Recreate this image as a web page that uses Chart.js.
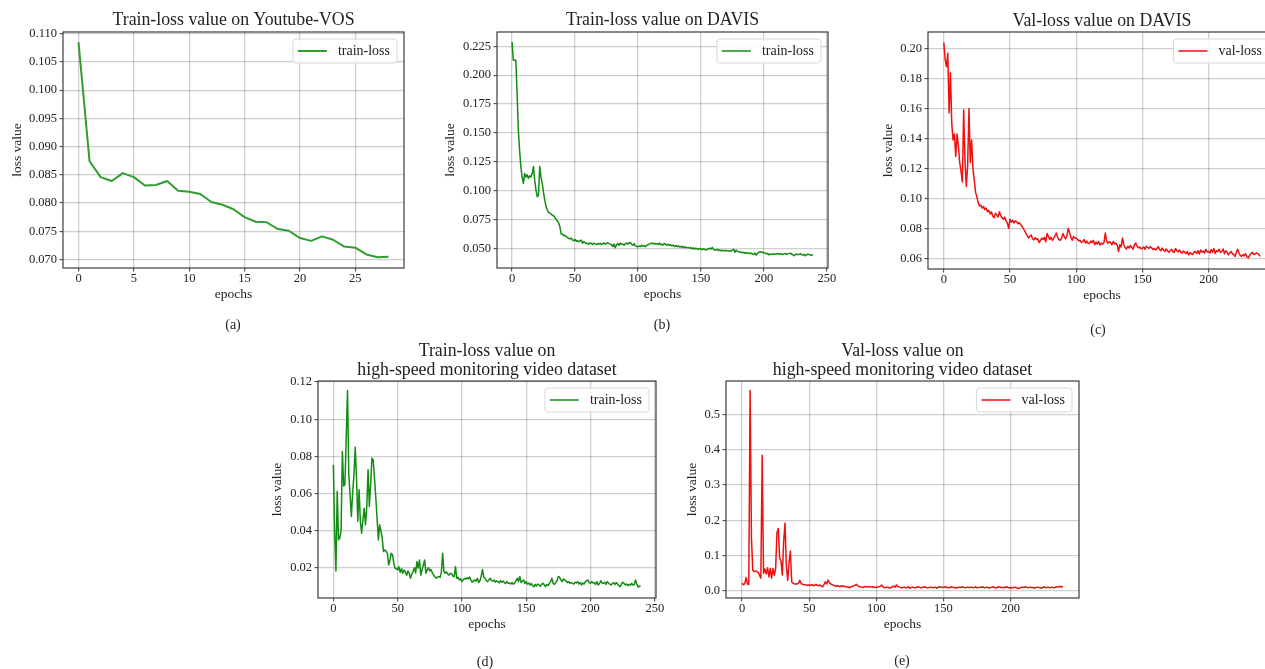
<!DOCTYPE html>
<html>
<head>
<meta charset="utf-8">
<script src="https://cdn.jsdelivr.net/npm/chart.js@4.4.1/dist/chart.umd.min.js"></script>
<style>
  html, body { margin: 0; padding: 0; background: #fff; }
  body { width: 1265px; height: 669px; position: relative; overflow: hidden; }
  canvas { position: absolute; }
  .cap { position: absolute; font: 14px "Liberation Serif", serif; color: #222; transform: translate(-50%, -50%); opacity: 0.999; will-change: transform; }
</style>
</head>
<body>
<canvas id="chartA"></canvas>
<canvas id="chartB"></canvas>
<canvas id="chartC"></canvas>
<canvas id="chartD"></canvas>
<canvas id="chartE"></canvas>
<div class="cap" style="left:233px; top:325px;">(a)</div>
<div class="cap" style="left:662px; top:325px;">(b)</div>
<div class="cap" style="left:1098px; top:330px;">(c)</div>
<div class="cap" style="left:485px; top:662px;">(d)</div>
<div class="cap" style="left:902px; top:661px;">(e)</div>
<script>
// ---- data ----
var trainLossYoutube = [0.1085, 0.0874, 0.0846, 0.0839, 0.0853, 0.0846, 0.0831, 0.0832, 0.0839, 0.0822,
    0.0820, 0.0816, 0.0802, 0.0797, 0.0789, 0.0775, 0.0767, 0.0766, 0.0754, 0.0751,
    0.0738, 0.0733, 0.0741, 0.0735, 0.0723, 0.0721, 0.0709, 0.0704, 0.0705];

var trainLossDavis = [
    0.2287, 0.2130, 0.2130, 0.2128, 0.1850, 0.1520, 0.1350, 0.1210, 0.1120, 0.1065,
    0.1150, 0.1120, 0.1140, 0.1110, 0.1130, 0.1120, 0.1150, 0.1210, 0.1093, 0.1007,
    0.0950, 0.0965, 0.1210, 0.1120, 0.1065, 0.0985, 0.0920, 0.0865, 0.0835, 0.0815,
    0.0808, 0.0800, 0.0790, 0.0785, 0.0770, 0.0756, 0.0738, 0.0725, 0.0690, 0.0628,
    0.0625, 0.0612, 0.0618, 0.0605, 0.0598, 0.0590, 0.0585, 0.0592, 0.0576, 0.0570,
    0.0582, 0.0565, 0.0572, 0.0560, 0.0568, 0.0575, 0.0548, 0.0562, 0.0553, 0.0545,
    0.0548, 0.0540, 0.0552, 0.0545, 0.0538, 0.0550, 0.0542, 0.0535, 0.0546, 0.0540,
    0.0548, 0.0536, 0.0544, 0.0550, 0.0540, 0.0547, 0.0552, 0.0545, 0.0540, 0.0535,
    0.0518, 0.0540, 0.0510, 0.0535, 0.0545, 0.0530, 0.0550, 0.0538, 0.0542, 0.0530,
    0.0545, 0.0550, 0.0540, 0.0552, 0.0555, 0.0538, 0.0530, 0.0545, 0.0525, 0.0520,
    0.0518, 0.0525, 0.0520, 0.0530, 0.0522, 0.0528, 0.0518, 0.0530, 0.0535, 0.0540,
    0.0545, 0.0550, 0.0542, 0.0548, 0.0540, 0.0545, 0.0538, 0.0550, 0.0535, 0.0540,
    0.0532, 0.0545, 0.0538, 0.0530, 0.0540, 0.0528, 0.0535, 0.0525, 0.0532, 0.0520,
    0.0528, 0.0518, 0.0525, 0.0515, 0.0520, 0.0512, 0.0522, 0.0510, 0.0515, 0.0508,
    0.0512, 0.0505, 0.0510, 0.0500, 0.0508, 0.0498, 0.0505, 0.0500, 0.0495, 0.0502,
    0.0498, 0.0492, 0.0500, 0.0495, 0.0490, 0.0496, 0.0500, 0.0505, 0.0498, 0.0512,
    0.0495, 0.0490, 0.0488, 0.0495, 0.0485, 0.0490, 0.0482, 0.0488, 0.0485, 0.0480,
    0.0488, 0.0482, 0.0478, 0.0485, 0.0480, 0.0490, 0.0495, 0.0470, 0.0488, 0.0480,
    0.0475, 0.0470, 0.0472, 0.0465, 0.0470, 0.0462, 0.0468, 0.0460, 0.0465, 0.0458,
    0.0462, 0.0455, 0.0450, 0.0465, 0.0445, 0.0460, 0.0470, 0.0475, 0.0468, 0.0472,
    0.0465, 0.0462, 0.0458, 0.0460, 0.0448, 0.0455, 0.0450, 0.0455, 0.0452, 0.0458,
    0.0455, 0.0460, 0.0452, 0.0458, 0.0455, 0.0450, 0.0456, 0.0460, 0.0452, 0.0455,
    0.0458, 0.0462, 0.0455, 0.0448, 0.0440, 0.0450, 0.0455, 0.0448, 0.0452, 0.0458,
    0.0450, 0.0445, 0.0452, 0.0440, 0.0448, 0.0455, 0.0450, 0.0445, 0.0448, 0.0442];

var valLossDavis = [
    0.2042, 0.1930, 0.1880, 0.1970, 0.1570, 0.1840, 0.1500, 0.1390, 0.1430, 0.1280,
    0.1430, 0.1350, 0.1240, 0.1180, 0.1110, 0.1590, 0.1250, 0.1080, 0.1220, 0.1600,
    0.1240, 0.1390, 0.1200, 0.1120, 0.1040, 0.1010, 0.0970, 0.0950, 0.0955, 0.0935,
    0.0945, 0.0925, 0.0935, 0.0910, 0.0920, 0.0895, 0.0910, 0.0880, 0.0870, 0.0900,
    0.0890, 0.0875, 0.0910, 0.0885, 0.0870, 0.0860, 0.0875, 0.0850, 0.0835, 0.0800,
    0.0860, 0.0840, 0.0855, 0.0835, 0.0850, 0.0845, 0.0830, 0.0838, 0.0825, 0.0815,
    0.0800, 0.0785, 0.0768, 0.0752, 0.0735, 0.0748, 0.0755, 0.0730, 0.0722, 0.0738,
    0.0725, 0.0730, 0.0705, 0.0720, 0.0735, 0.0725, 0.0740, 0.0710, 0.0765, 0.0745,
    0.0725, 0.0740, 0.0720, 0.0735, 0.0750, 0.0768, 0.0740, 0.0725, 0.0720, 0.0735,
    0.0765, 0.0745, 0.0730, 0.0750, 0.0800, 0.0770, 0.0740, 0.0720, 0.0745, 0.0735,
    0.0735, 0.0728, 0.0715, 0.0720, 0.0705, 0.0712, 0.0725, 0.0702, 0.0715, 0.0700,
    0.0698, 0.0715, 0.0705, 0.0720, 0.0690, 0.0708, 0.0695, 0.0712, 0.0688, 0.0700,
    0.0695, 0.0705, 0.0768, 0.0715, 0.0700, 0.0710, 0.0705, 0.0690, 0.0712, 0.0695,
    0.0700, 0.0688, 0.0645, 0.0690, 0.0675, 0.0735, 0.0690, 0.0670, 0.0662, 0.0680,
    0.0668, 0.0685, 0.0672, 0.0660, 0.0690, 0.0702, 0.0680, 0.0670, 0.0675, 0.0662,
    0.0668, 0.0675, 0.0660, 0.0680, 0.0672, 0.0665, 0.0678, 0.0670, 0.0658, 0.0665,
    0.0655, 0.0665, 0.0678, 0.0660, 0.0650, 0.0668, 0.0655, 0.0645, 0.0662, 0.0650,
    0.0640, 0.0652, 0.0660, 0.0645, 0.0638, 0.0665, 0.0650, 0.0642, 0.0655, 0.0640,
    0.0635, 0.0648, 0.0640, 0.0630, 0.0645, 0.0622, 0.0638, 0.0630, 0.0625, 0.0640,
    0.0645, 0.0632, 0.0650, 0.0628, 0.0655, 0.0640, 0.0648, 0.0635, 0.0660, 0.0642,
    0.0645, 0.0635, 0.0658, 0.0640, 0.0665, 0.0632, 0.0650, 0.0645, 0.0660, 0.0638,
    0.0645, 0.0662, 0.0630, 0.0650, 0.0640, 0.0622, 0.0635, 0.0645, 0.0630, 0.0625,
    0.0612, 0.0640, 0.0660, 0.0635, 0.0618, 0.0612, 0.0625, 0.0615, 0.0630, 0.0610,
    0.0602, 0.0618, 0.0630, 0.0640, 0.0625, 0.0628, 0.0635, 0.0632, 0.0625, 0.0612];

var trainLossHighSpeed = [
    0.0755, 0.0400, 0.0183, 0.0612, 0.0350, 0.0360, 0.0400, 0.0826, 0.0640, 0.0650,
    0.0900, 0.1155, 0.0700, 0.0593, 0.0476, 0.0603, 0.0700, 0.0849, 0.0683, 0.0450,
    0.0620, 0.0450, 0.0386, 0.0460, 0.0521, 0.0431, 0.0530, 0.0728, 0.0530, 0.0650,
    0.0791, 0.0780, 0.0683, 0.0580, 0.0467, 0.0350, 0.0431, 0.0400, 0.0359, 0.0287,
    0.0296, 0.0290, 0.0278, 0.0215, 0.0240, 0.0278, 0.0270, 0.0225, 0.0197, 0.0195,
    0.0188, 0.0205, 0.0175, 0.0195, 0.0170, 0.0188, 0.0178, 0.0160, 0.0182, 0.0170,
    0.0143, 0.0165, 0.0180, 0.0200, 0.0172, 0.0233, 0.0198, 0.0242, 0.0160, 0.0190,
    0.0215, 0.0242, 0.0170, 0.0188, 0.0200, 0.0182, 0.0190, 0.0172, 0.0160, 0.0152,
    0.0143, 0.0150, 0.0152, 0.0148, 0.0175, 0.0278, 0.0180, 0.0170, 0.0178, 0.0165,
    0.0161, 0.0170, 0.0168, 0.0155, 0.0152, 0.0206, 0.0143, 0.0148, 0.0134, 0.0140,
    0.0125, 0.0135, 0.0143, 0.0138, 0.0146, 0.0140, 0.0150, 0.0132, 0.0122, 0.0130,
    0.0134, 0.0128, 0.0143, 0.0120, 0.0130, 0.0155, 0.0190, 0.0150, 0.0143, 0.0130,
    0.0125, 0.0135, 0.0143, 0.0130, 0.0128, 0.0134, 0.0122, 0.0130, 0.0125, 0.0118,
    0.0130, 0.0122, 0.0128, 0.0120, 0.0115, 0.0125, 0.0116, 0.0118, 0.0112, 0.0120,
    0.0111, 0.0118, 0.0130, 0.0143, 0.0125, 0.0153, 0.0120, 0.0128, 0.0134, 0.0115,
    0.0125, 0.0112, 0.0118, 0.0107, 0.0115, 0.0104, 0.0098, 0.0110, 0.0102, 0.0112,
    0.0107, 0.0100, 0.0112, 0.0116, 0.0108, 0.0098, 0.0110, 0.0104, 0.0116, 0.0125,
    0.0143, 0.0115, 0.0111, 0.0120, 0.0130, 0.0153, 0.0148, 0.0134, 0.0125, 0.0140,
    0.0134, 0.0128, 0.0120, 0.0125, 0.0116, 0.0120, 0.0116, 0.0112, 0.0122, 0.0118,
    0.0125, 0.0112, 0.0120, 0.0107, 0.0118, 0.0112, 0.0125, 0.0130, 0.0134, 0.0120,
    0.0116, 0.0125, 0.0118, 0.0120, 0.0110, 0.0125, 0.0107, 0.0115, 0.0130, 0.0118,
    0.0116, 0.0122, 0.0110, 0.0125, 0.0118, 0.0112, 0.0107, 0.0115, 0.0120, 0.0110,
    0.0120, 0.0112, 0.0104, 0.0098, 0.0110, 0.0122, 0.0116, 0.0108, 0.0112, 0.0104,
    0.0111, 0.0105, 0.0116, 0.0107, 0.0110, 0.0134, 0.0112, 0.0095, 0.0102, 0.0100];

var valLossHighSpeed = [
    0.022, 0.018, 0.020, 0.038, 0.020, 0.018, 0.567, 0.150, 0.058, 0.055,
    0.057, 0.055, 0.052, 0.045, 0.036, 0.384, 0.050, 0.062, 0.048, 0.066,
    0.040, 0.064, 0.036, 0.064, 0.045, 0.062, 0.165, 0.177, 0.093, 0.085,
    0.045, 0.140, 0.192, 0.070, 0.030, 0.080, 0.113, 0.025, 0.022, 0.020,
    0.020, 0.020, 0.022, 0.030, 0.021, 0.019, 0.018, 0.018, 0.017, 0.016,
    0.017, 0.016, 0.018, 0.015, 0.016, 0.019, 0.016, 0.015, 0.017, 0.014,
    0.012, 0.018, 0.026, 0.020, 0.031, 0.024, 0.020, 0.018, 0.016, 0.015,
    0.013, 0.015, 0.014, 0.012, 0.015, 0.013, 0.014, 0.012, 0.011, 0.012,
    0.009, 0.012, 0.013, 0.014, 0.016, 0.019, 0.015, 0.013, 0.012, 0.011,
    0.010, 0.012, 0.013, 0.011, 0.012, 0.013, 0.011, 0.012, 0.010, 0.011,
    0.010, 0.011, 0.012, 0.014, 0.017, 0.012, 0.009, 0.010, 0.011, 0.010,
    0.008, 0.010, 0.012, 0.014, 0.011, 0.017, 0.013, 0.011, 0.010, 0.009,
    0.010, 0.011, 0.009, 0.010, 0.012, 0.008, 0.010, 0.011, 0.009, 0.010,
    0.010, 0.012, 0.011, 0.009, 0.010, 0.011, 0.012, 0.010, 0.009, 0.010,
    0.010, 0.011, 0.009, 0.010, 0.011, 0.008, 0.010, 0.012, 0.011, 0.010,
    0.011, 0.012, 0.010, 0.011, 0.009, 0.010, 0.012, 0.011, 0.009, 0.010,
    0.008, 0.010, 0.011, 0.010, 0.012, 0.011, 0.009, 0.010, 0.011, 0.010,
    0.010, 0.011, 0.009, 0.010, 0.012, 0.009, 0.010, 0.011, 0.010, 0.012,
    0.010, 0.009, 0.011, 0.010, 0.008, 0.010, 0.011, 0.012, 0.010, 0.009,
    0.010, 0.012, 0.011, 0.010, 0.009, 0.011, 0.010, 0.012, 0.010, 0.009,
    0.008, 0.010, 0.009, 0.011, 0.010, 0.008, 0.007, 0.009, 0.010, 0.011,
    0.010, 0.012, 0.011, 0.009, 0.010, 0.011, 0.009, 0.010, 0.008, 0.010,
    0.011, 0.010, 0.009, 0.008, 0.010, 0.012, 0.009, 0.010, 0.011, 0.009,
    0.010, 0.011, 0.009, 0.010, 0.012, 0.011, 0.012, 0.013, 0.012, 0.012];

// tick values
var xTicksA = [0, 5, 10, 15, 20, 25];
var yTicksA = [0.070, 0.075, 0.080, 0.085, 0.090, 0.095, 0.100, 0.105, 0.110];
var xTicksLong = [0, 50, 100, 150, 200, 250];
var xTicksShort = [0, 50, 100, 150, 200];
var yTicksB = [0.050, 0.075, 0.100, 0.125, 0.150, 0.175, 0.200, 0.225];
var yTicksC = [0.06, 0.08, 0.10, 0.12, 0.14, 0.16, 0.18, 0.20];
var yTicksD = [0.02, 0.04, 0.06, 0.08, 0.10, 0.12];
var yTicksE = [0.0, 0.1, 0.2, 0.3, 0.4, 0.5];

const SERIF = '"Liberation Serif", "Times New Roman", serif';
const TEXT = '#222';
const TICK_SIZE = 12.5, AXIS_SIZE = 13.5, TITLE_SIZE = 17.8, LEGEND_SIZE = 14;
Chart.defaults.font.family = SERIF;
Chart.defaults.color = TEXT;

// axes frame + matplotlib style legend box in the upper right
const frameLegend = {
    id: 'frameLegend',
    afterDraw(chart) {
        const ctx = chart.ctx, a = chart.chartArea;
        const ds = chart.data.datasets[0];
        ctx.save();
        ctx.strokeStyle = '#3c3c3c';
        ctx.lineWidth = 1.2;
        ctx.strokeRect(a.left, a.top, a.right - a.left, a.bottom - a.top);

        ctx.font = LEGEND_SIZE + 'px ' + SERIF;
        const tw = ctx.measureText(ds.label).width;
        const w = 5 + 29 + 11 + tw + 7, h = 24;
        const x = a.right - 7 - w, y = a.top + 7;
        ctx.beginPath();
        ctx.roundRect(x, y, w, h, 3);
        ctx.fillStyle = 'rgba(255,255,255,0.85)';
        ctx.fill();
        ctx.strokeStyle = '#d8d8d8';
        ctx.lineWidth = 1;
        ctx.stroke();

        ctx.beginPath();
        ctx.moveTo(x + 5, y + h / 2);
        ctx.lineTo(x + 34, y + h / 2);
        ctx.strokeStyle = ds.borderColor;
        ctx.lineWidth = ds.borderWidth;
        ctx.stroke();

        ctx.fillStyle = TEXT;
        ctx.textBaseline = 'middle';
        ctx.fillText(ds.label, x + 45, y + h / 2 + 0.5);
        ctx.restore();
    }
};

function drawLossChart(id, s, values, xTicks, yTicks, yDec) {
    const canvas = document.getElementById(id);
    const lhT = TITLE_SIZE * s.titleLH;
    const lines = s.title.length;
    const axisLH = AXIS_SIZE * 1.2;

    const left = Math.round(s.yTitleX - 10);
    const top = Math.floor(s.titleMid - lhT / 2 - 3);
    const yW = s.L - left;
    const tPadTop = s.titleMid - lhT / 2 - top;
    const tPadBottom = s.T - top - lines * lhT - tPadTop;
    const xH = Math.ceil(s.xTitleY - s.B + axisLH / 2 + 2);
    const xPadBottom = xH - (s.xTitleY - s.B) - axisLH / 2;
    const width = s.R + 18 - left;
    const height = s.B + xH - top;

    canvas.style.left = left + 'px';
    canvas.style.top = top + 'px';
    canvas.width = width;
    canvas.height = height;

    new Chart(canvas, {
        type: 'line',
        data: {
            labels: values.map((v, i) => i),
            datasets: [{
                label: s.label,
                data: values,
                borderColor: s.color,
                borderWidth: s.lineWidth,
                pointRadius: 0,
                borderJoinStyle: 'round',
                tension: 0,
                fill: false
            }]
        },
        options: {
            responsive: false,
            animation: false,
            devicePixelRatio: 1,
            layout: { autoPadding: false, padding: { left: 0, top: 0, bottom: 0, right: width - (s.R - left) } },
            plugins: {
                legend: { display: false },
                tooltip: { enabled: false },
                title: {
                    display: true,
                    text: s.title,
                    fullSize: false,
                    color: TEXT,
                    font: { size: TITLE_SIZE, weight: 'normal', lineHeight: s.titleLH },
                    padding: { top: tPadTop, bottom: tPadBottom }
                }
            },
            scales: {
                x: {
                    type: 'linear',
                    min: s.xMin,
                    max: s.xMax,
                    afterBuildTicks: function(axis) { axis.ticks = xTicks.map(v => ({ value: v })); },
                    afterFit: function(axis) { axis.height = xH; },
                    grid: { color: 'rgba(0,0,0,0.19)', lineWidth: 1.3, tickLength: 3.5, tickColor: '#3c3c3c', tickWidth: 1 },
                    border: { display: false },
                    ticks: { font: { size: TICK_SIZE }, padding: 0, maxRotation: 0, autoSkip: false,
                        callback: function(v) { return String(v); } },
                    title: { display: true, text: 'epochs', font: { size: AXIS_SIZE }, padding: { top: 0, bottom: xPadBottom } }
                },
                y: {
                    min: s.yMin,
                    max: s.yMax,
                    afterBuildTicks: function(axis) { axis.ticks = yTicks.map(v => ({ value: v })); },
                    afterFit: function(axis) { axis.width = yW; },
                    grid: { color: 'rgba(0,0,0,0.19)', lineWidth: 1.3, tickLength: 3.5, tickColor: '#3c3c3c', tickWidth: 1 },
                    border: { display: false },
                    ticks: { font: { size: TICK_SIZE }, padding: 2.5, autoSkip: false,
                        callback: function(v) { return v.toFixed(yDec); } },
                    title: { display: true, text: 'loss value', font: { size: AXIS_SIZE }, padding: { top: 10 - axisLH / 2, bottom: 0 } }
                }
            }
        },
        plugins: [frameLegend]
    });
}

drawLossChart('chartA', {
    L: 63, T: 32, R: 404, B: 268, xMin: -1.4, xMax: 29.4, yMin: 0.0685, yMax: 0.1103,
    title: ['Train-loss value on Youtube-VOS'], titleLH: 1.2, titleMid: 20.4,
    yTitleX: 17, xTitleY: 294, label: 'train-loss', color: '#2f9e2f', lineWidth: 2
}, trainLossYoutube, xTicksA, yTicksA, 3);

drawLossChart('chartB', {
    L: 497, T: 32, R: 828, B: 268, xMin: -11.95, xMax: 250.95, yMin: 0.0334, yMax: 0.2373,
    title: ['Train-loss value on DAVIS'], titleLH: 1.2, titleMid: 20.8,
    yTitleX: 450, xTitleY: 294, label: 'train-loss', color: '#138c13', lineWidth: 1.5
}, trainLossDavis, xTicksLong, yTicksB, 3);

drawLossChart('chartC', {
    L: 928, T: 32, R: 1276, B: 269, xMin: -11.95, xMax: 250.95, yMin: 0.0528, yMax: 0.2112,
    title: ['Val-loss value on DAVIS'], titleLH: 1.2, titleMid: 21.3,
    yTitleX: 888, xTitleY: 295, label: 'val-loss', color: '#f01010', lineWidth: 1.5
}, valLossDavis, xTicksLong, yTicksC, 2);

drawLossChart('chartD', {
    L: 318, T: 381, R: 656, B: 598, xMin: -11.95, xMax: 250.95, yMin: 0.0037, yMax: 0.1206,
    title: ['Train-loss value on', 'high-speed monitoring video dataset'], titleLH: 1.08, titleMid: 351.5,
    yTitleX: 277, xTitleY: 624, label: 'train-loss', color: '#138c13', lineWidth: 1.5
}, trainLossHighSpeed, xTicksLong, yTicksD, 2);

drawLossChart('chartE', {
    L: 726, T: 381, R: 1079, B: 598, xMin: -11.95, xMax: 250.95, yMin: -0.0198, yMax: 0.594,
    title: ['Val-loss value on', 'high-speed monitoring video dataset'], titleLH: 1.08, titleMid: 351.5,
    yTitleX: 692, xTitleY: 624, label: 'val-loss', color: '#f01010', lineWidth: 1.5
}, valLossHighSpeed, xTicksShort, yTicksE, 1);
</script>
</body>
</html>
